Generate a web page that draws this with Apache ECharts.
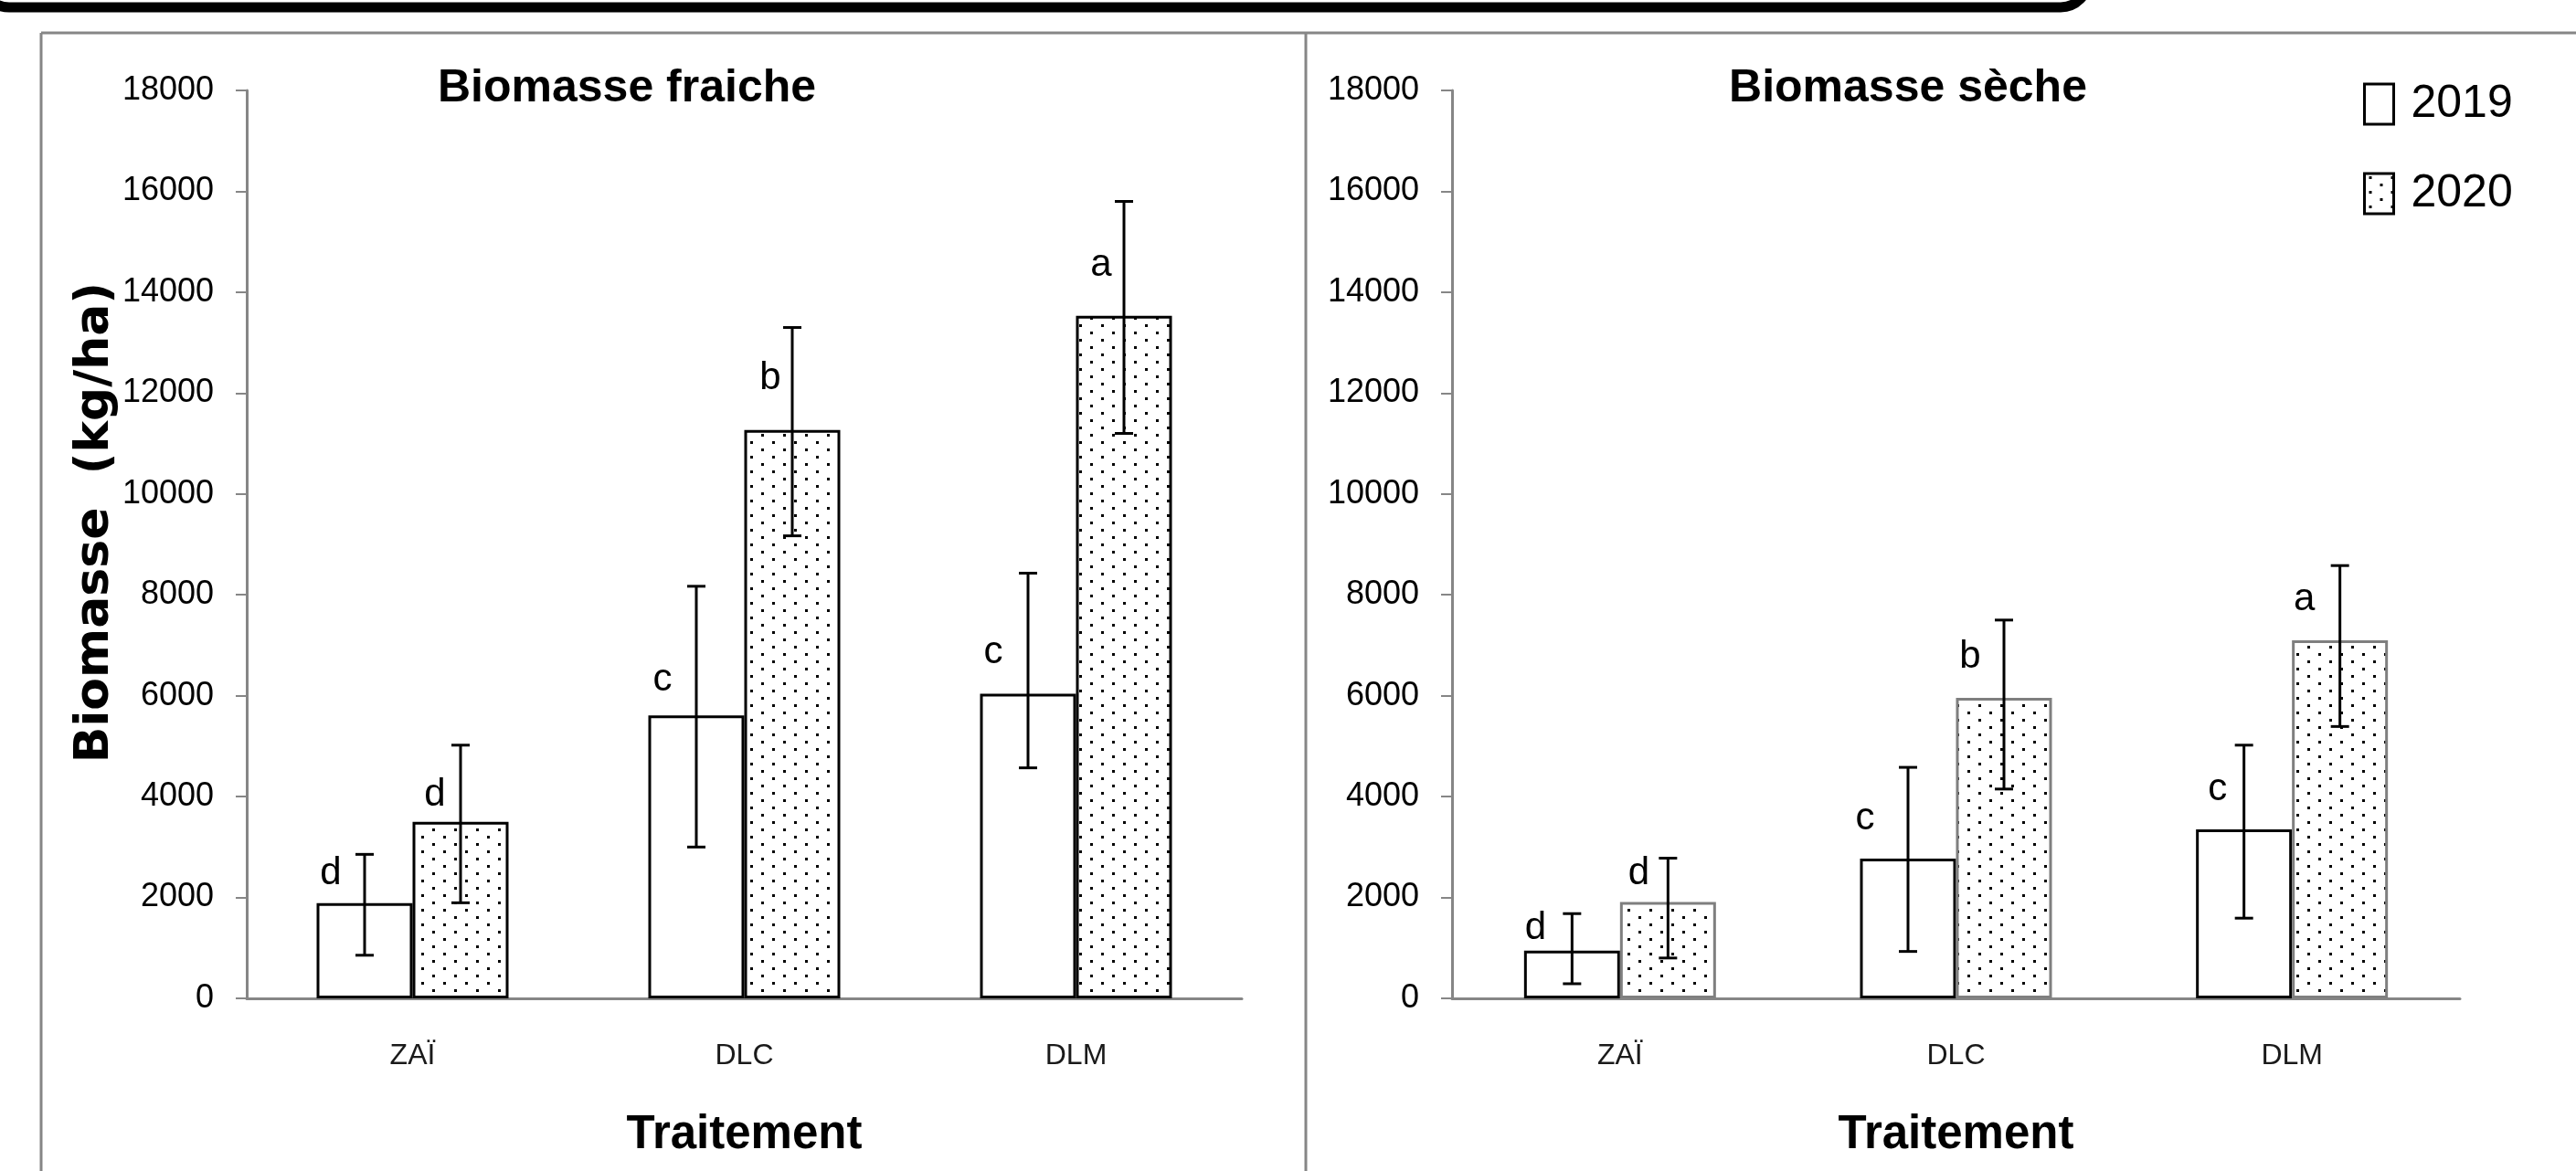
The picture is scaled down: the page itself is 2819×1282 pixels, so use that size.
<!DOCTYPE html>
<html>
<head>
<meta charset="utf-8">
<script src="https://cdn.jsdelivr.net/npm/echarts@6/dist/echarts.min.js"></script>
<style>
  html, body { margin: 0; padding: 0; background: #fff; }
  #chart { width: 2819px; height: 1282px; }
</style>
</head>
<body>
<div id="chart"></div>
<script>
// treatments and years
const categories = ['ZAÏ', 'DLC', 'DLM']
const years = ['2019', '2020']

// biomasse fraiche (kg/ha), mean with error bar ends
const fresh2019 = [1890, 5610, 6040]
const fresh2019Low = [855, 3000, 4570]
const fresh2019High = [2855, 8170, 8430]
const fresh2020 = [3500, 11270, 13530]
const fresh2020Low = [1895, 9170, 11200]
const fresh2020High = [5020, 13300, 15800]

// biomasse seche (kg/ha)
const dry2019 = [945, 2770, 3350]
const dry2019Low = [290, 930, 1590]
const dry2019High = [1680, 4580, 5020]
const dry2020 = [1910, 5960, 7100]
const dry2020Low = [800, 4150, 5390]
const dry2020High = [2780, 7500, 8580]

// significance letters
const fresh2019Letters = ['d', 'c', 'c']
const fresh2020Letters = ['d', 'b', 'a']
const dry2019Letters = ['d', 'c', 'c']
const dry2020Letters = ['d', 'b', 'a']

const yMax = 18000
const yStep = 2000

// where each hand placed letter sits: [dx from bar centre, gap above bar] in px
const letterPos = {
  fresh2019: [[-37, 19], [-37, 26], [-38, 32]],
  fresh2020: [[-28, 16], [-24, 43], [-25, 42]],
  dry2019: [[-40, 11], [-47, 31], [-29, 31]],
  dry2020: [[-32, 18], [-37, 31], [-39, 32]],
}

const FONT = "'Liberation Sans', Arial, sans-serif"
const AXIS_GREY = '#868686'
const BAR_W = 105

function dotPattern() {
  const c = document.createElement('canvas')
  c.width = 24
  c.height = 16
  const ctx = c.getContext('2d')
  ctx.fillStyle = '#fff'
  ctx.fillRect(0, 0, 24, 16)
  ctx.fillStyle = '#000'
  ctx.fillRect(5, 3, 3, 3)
  ctx.fillRect(17, 11, 3, 3)
  return c
}
const dots = { image: dotPattern(), repeat: 'repeat' }

function barSeries(name, values, letters, pos, idx, fill, border) {
  return {
    name,
    type: 'bar',
    xAxisIndex: idx,
    yAxisIndex: idx,
    barWidth: BAR_W,
    barGap: '0%',
    itemStyle: { color: fill, borderColor: border, borderWidth: 3 },
    label: {
      show: true,
      position: 'top',
      color: '#000',
      fontFamily: FONT,
      fontSize: 42,
    },
    data: values.map((v, i) => ({
      value: v,
      label: {
        formatter: letters[i],
        offset: [pos[i][0], 0],
        distance: pos[i][1] - 8,
      },
    })),
  }
}

function errSeries(low, high, idx, shift) {
  return {
    type: 'custom',
    xAxisIndex: idx,
    yAxisIndex: idx,
    z: 5,
    silent: true,
    encode: { x: 0, y: [1, 2] },
    data: low.map((l, i) => [i, l, high[i]]),
    renderItem(params, api) {
      const lo = api.coord([api.value(0), api.value(1)])
      const hi = api.coord([api.value(0), api.value(2)])
      const x = lo[0] + shift
      const st = { stroke: '#000', lineWidth: 3 }
      return {
        type: 'group',
        children: [
          { type: 'line', shape: { x1: x, y1: hi[1], x2: x, y2: lo[1] }, style: st },
          { type: 'line', shape: { x1: x - 10, y1: hi[1], x2: x + 10, y2: hi[1] }, style: st },
          { type: 'line', shape: { x1: x - 10, y1: lo[1], x2: x + 10, y2: lo[1] }, style: st },
        ],
      }
    },
  }
}

function xAxisFor(idx) {
  return {
    type: 'category',
    gridIndex: idx,
    data: categories,
    name: 'Traitement',
    nameLocation: 'middle',
    nameGap: 124,
    nameTextStyle: { fontFamily: FONT, fontWeight: 'bold', fontSize: 51, color: '#000' },
    axisLine: { lineStyle: { color: AXIS_GREY, width: 3 } },
    axisTick: { length: 15, lineStyle: { color: AXIS_GREY, width: 2 } },
    axisLabel: { margin: 47, fontFamily: FONT, fontSize: 32, color: '#1a1a1a' },
  }
}

function yAxisFor(idx) {
  return {
    type: 'value',
    gridIndex: idx,
    min: 0,
    max: yMax,
    interval: yStep,
    splitLine: { show: false },
    axisLine: { show: true, lineStyle: { color: AXIS_GREY, width: 3 } },
    axisTick: { show: true, length: 12, lineStyle: { color: AXIS_GREY, width: 2 } },
    axisLabel: {
      margin: 36,
      fontFamily: FONT,
      fontSize: 36,
      color: '#000',
      formatter: (v) => String(v),
    },
  }
}

const chart = echarts.init(document.getElementById('chart'))

const yLeft = yAxisFor(0)
yLeft.name = 'Biomasse  (kg/ha)'
yLeft.nameLocation = 'middle'
yLeft.nameRotate = 90
yLeft.nameGap = 139
yLeft.nameTextStyle = {
  fontFamily: "'DejaVu Sans', sans-serif",
  fontWeight: 'bold',
  fontSize: 52,
  color: '#000',
  padding: [0, 0, 0, 48],
}

chart.setOption({
  animation: false,
  backgroundColor: '#fff',
  title: [
    {
      text: 'Biomasse fraiche',
      left: 681,
      top: 67,
      textAlign: 'center',
      textStyle: { fontFamily: FONT, fontWeight: 'bold', fontSize: 50, color: '#000' },
    },
    {
      text: 'Biomasse sèche',
      left: 2083,
      top: 67,
      textAlign: 'center',
      textStyle: { fontFamily: FONT, fontWeight: 'bold', fontSize: 50, color: '#000' },
    },
  ],
  legend: {
    data: years,
    orient: 'vertical',
    left: 2586,
    top: 84,
    padding: 0,
    itemWidth: 32,
    itemHeight: 44,
    itemGap: 38,
    icon: 'rect',
    itemStyle: { borderColor: '#000', borderWidth: 3 },
    textStyle: { fontFamily: FONT, fontSize: 50, lineHeight: 60, color: '#000', padding: [0, 0, 0, 14] },
  },
  grid: [
    { left: 270, top: 99, width: 1089, height: 994 },
    { left: 1589, top: 99, width: 1103, height: 994 },
  ],
  xAxis: [xAxisFor(0), xAxisFor(1)],
  yAxis: [yLeft, yAxisFor(1)],
  series: [
    barSeries('2019', fresh2019, fresh2019Letters, letterPos.fresh2019, 0, '#fff', '#000'),
    barSeries('2020', fresh2020, fresh2020Letters, letterPos.fresh2020, 0, dots, '#000'),
    barSeries('2019', dry2019, dry2019Letters, letterPos.dry2019, 1, '#fff', '#000'),
    barSeries('2020', dry2020, dry2020Letters, letterPos.dry2020, 1, dots, '#7f7f7f'),
    errSeries(fresh2019Low, fresh2019High, 0, -BAR_W / 2),
    errSeries(fresh2020Low, fresh2020High, 0, BAR_W / 2),
    errSeries(dry2019Low, dry2019High, 1, -BAR_W / 2),
    errSeries(dry2020Low, dry2020High, 1, BAR_W / 2),
  ],
  graphic: [
    // heavy rounded band along the top edge
    {
      type: 'rect',
      shape: { x: -20, y: -192, width: 2305, height: 200, r: 30 },
      style: { fill: 'none', stroke: '#000', lineWidth: 11 },
    },
    // chart frame
    { type: 'line', shape: { x1: 45, y1: 36, x2: 2819, y2: 36 }, style: { stroke: AXIS_GREY, lineWidth: 3 } },
    { type: 'line', shape: { x1: 45, y1: 36, x2: 45, y2: 1282 }, style: { stroke: AXIS_GREY, lineWidth: 3 } },
    { type: 'line', shape: { x1: 1429, y1: 36, x2: 1429, y2: 1282 }, style: { stroke: AXIS_GREY, lineWidth: 3 } },
  ],
})

window.addEventListener('resize', () => chart.resize())
</script>
</body>
</html>
